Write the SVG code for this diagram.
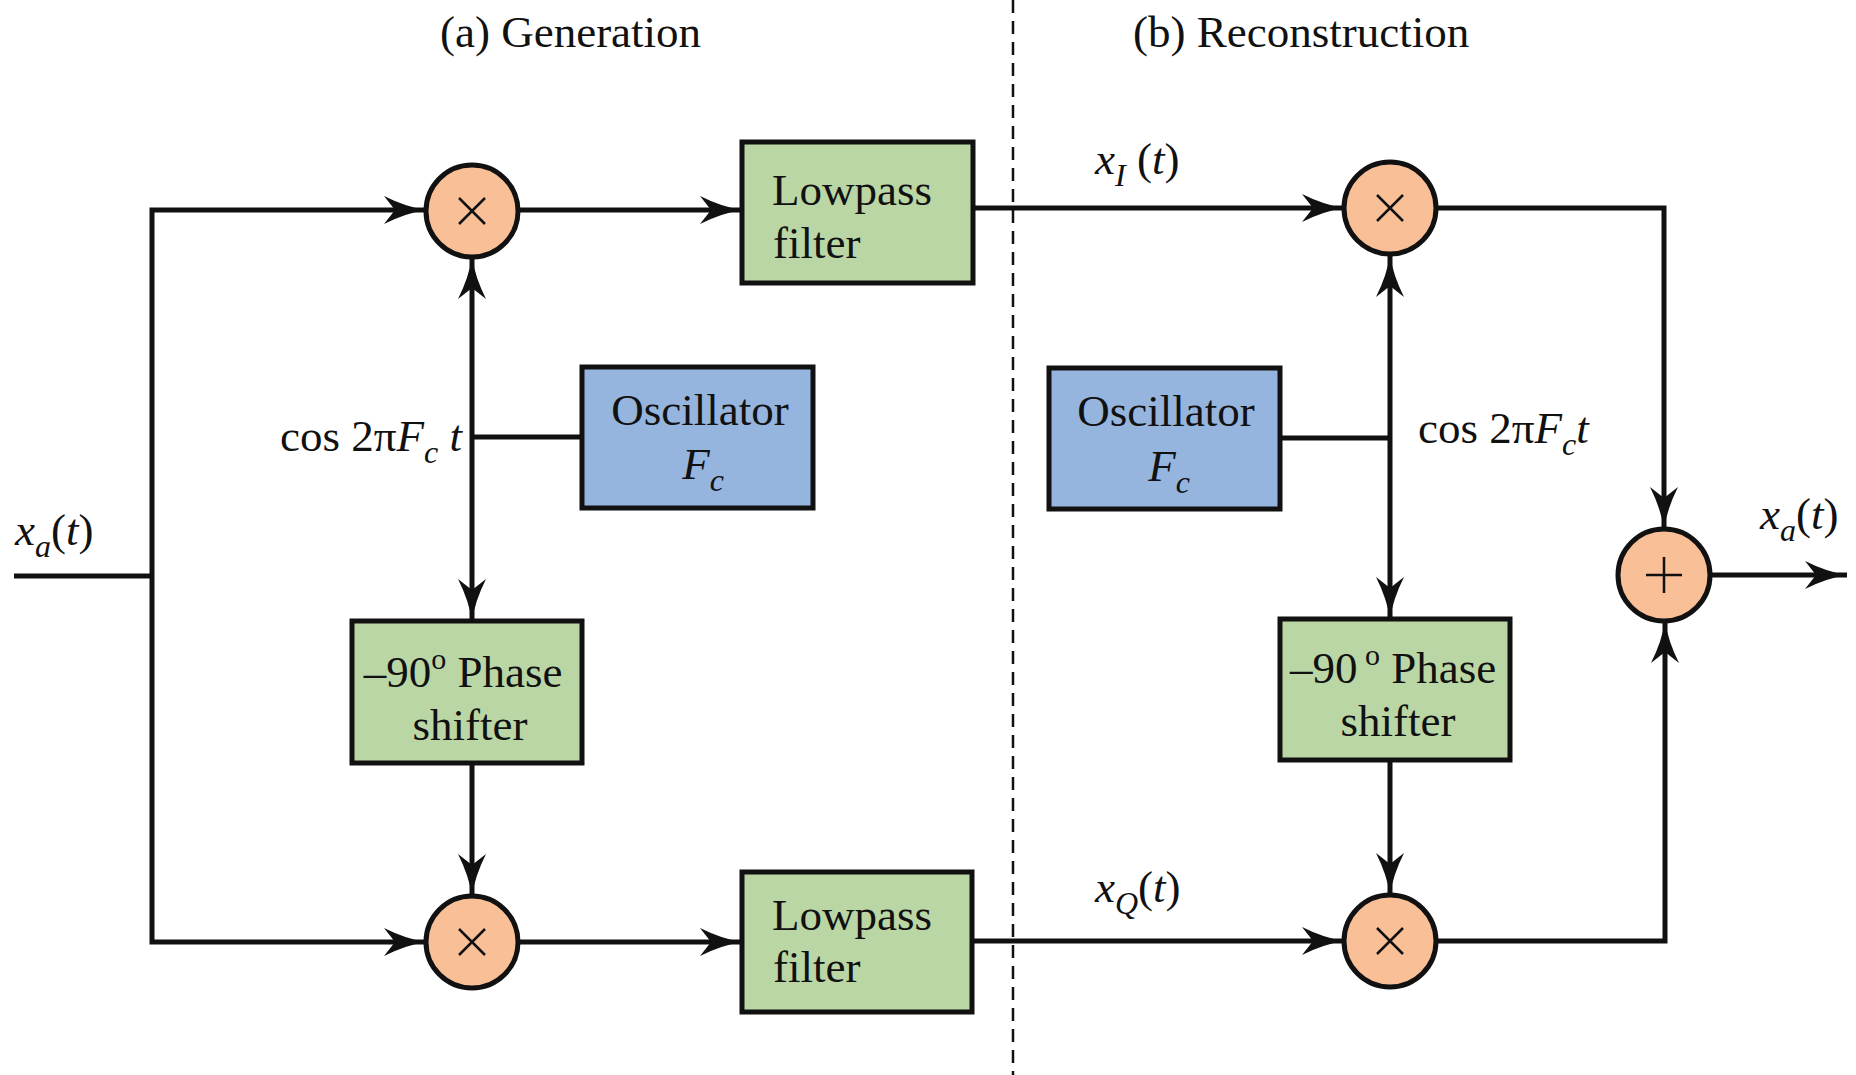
<svg xmlns="http://www.w3.org/2000/svg" width="1856" height="1075" viewBox="0 0 1856 1075">
<style>
.t{font-family:"Liberation Serif","Times New Roman",serif;font-size:45px;fill:#111}
.i{font-style:italic}
.sub{font-size:32px;font-style:italic}
.box{stroke:#111;stroke-width:5}
.g{fill:#BBD6A5}
.b{fill:#96B5DE}
.c{fill:#F9BF97;stroke:#111;stroke-width:5}
.sym{stroke:#111;stroke-width:2.5;fill:none}
.w{fill:none;stroke:#111;stroke-width:5}
.d{fill:none;stroke:#111;stroke-width:2.5;stroke-dasharray:13 8}
</style>
<defs>
<marker id="arr" markerUnits="userSpaceOnUse" markerWidth="44" markerHeight="32" viewBox="0 0 44 32" refX="42" refY="16" orient="auto">
<path d="M0,2 Q22,13 42,16 Q22,19 0,30 L11,16 Z" fill="#111"/>
</marker>
</defs>
<rect width="1856" height="1075" fill="#fff"/>
<line class="d" x1="1013" y1="0" x2="1013" y2="1075"/>
<g id="titles">
<text class="t" x="440" y="47">(a) Generation</text>
<text class="t" x="1133" y="47">(b) Reconstruction</text>
</g>
<g id="connectors">
<path class="w" d="M14,576 H152"/>
<path class="w" d="M152,576 V210 H426" marker-end="url(#arr)"/>
<path class="w" d="M152,576 V942 H426" marker-end="url(#arr)"/>
<path class="w" d="M518,210 H742" marker-end="url(#arr)"/>
<path class="w" d="M973,208 H1344" marker-end="url(#arr)"/>
<path class="w" d="M1436,208 H1664 V529" marker-end="url(#arr)"/>
<path class="w" d="M1710,575 H1847" marker-end="url(#arr)"/>
<path class="w" d="M1436,941 H1665 V621" marker-end="url(#arr)"/>
<path class="w" d="M972,941 H1344" marker-end="url(#arr)"/>
<path class="w" d="M518,942 H742" marker-end="url(#arr)"/>
<path class="w" d="M582,437 H472"/>
<path class="w" d="M472,437 V257" marker-end="url(#arr)"/>
<path class="w" d="M472,437 V621" marker-end="url(#arr)"/>
<path class="w" d="M472,763 V896" marker-end="url(#arr)"/>
<path class="w" d="M1280,438 H1390"/>
<path class="w" d="M1390,438 V255" marker-end="url(#arr)"/>
<path class="w" d="M1390,438 V619" marker-end="url(#arr)"/>
<path class="w" d="M1390,760 V895" marker-end="url(#arr)"/>
</g>
<g id="labels">
<text class="t" x="15" y="545"><tspan class="i">x</tspan><tspan class="sub" dy="12">a</tspan><tspan dy="-12">(</tspan><tspan class="i">t</tspan>)</text>
<text class="t" x="280" y="451">cos 2π<tspan class="i">F</tspan><tspan class="sub" dy="12">c</tspan><tspan class="i" dy="-12"> t</tspan></text>
<text class="t" x="1418" y="443">cos 2π<tspan class="i">F</tspan><tspan class="sub" dy="12">c</tspan><tspan class="i" dy="-12">t</tspan></text>
<text class="t" x="1095" y="174"><tspan class="i">x</tspan><tspan class="sub" dy="12">I</tspan><tspan dy="-12"> (</tspan><tspan class="i">t</tspan>)</text>
<text class="t" x="1095" y="902"><tspan class="i">x</tspan><tspan class="sub" dy="12">Q</tspan><tspan dy="-12">(</tspan><tspan class="i">t</tspan>)</text>
<text class="t" x="1760" y="529"><tspan class="i">x</tspan><tspan class="sub" dy="12">a</tspan><tspan dy="-12">(</tspan><tspan class="i">t</tspan>)</text>
</g>
<g id="mult1"><circle class="c" cx="472" cy="211" r="46"/><path class="sym" d="M459,198 L485,224 M485,198 L459,224"/></g>
<g id="mult2"><circle class="c" cx="1390" cy="208" r="46"/><path class="sym" d="M1377,195 L1403,221 M1403,195 L1377,221"/></g>
<g id="mult3"><circle class="c" cx="472" cy="942" r="46"/><path class="sym" d="M459,929 L485,955 M485,929 L459,955"/></g>
<g id="mult4"><circle class="c" cx="1390" cy="941" r="46"/><path class="sym" d="M1377,928 L1403,954 M1403,928 L1377,954"/></g>
<g id="adder"><circle class="c" cx="1664" cy="575" r="46"/><path class="sym" d="M1646,575 H1682 M1664,557 V593"/></g>
<g id="lpf1"><rect class="box g" x="742" y="142" width="231" height="141"/><text class="t" x="772" y="205">Lowpass</text><text class="t" x="773" y="258">filter</text></g>
<g id="lpf2"><rect class="box g" x="742" y="872" width="230" height="140"/><text class="t" x="772" y="930">Lowpass</text><text class="t" x="773" y="982">filter</text></g>
<g id="osc1"><rect class="box b" x="582" y="367" width="231" height="141"/><text class="t" x="700" y="425" text-anchor="middle">Oscillator</text><text class="t" x="703" y="479" text-anchor="middle"><tspan class="i">F</tspan><tspan class="sub" dy="12">c</tspan></text></g>
<g id="osc2"><rect class="box b" x="1049" y="368" width="231" height="141"/><text class="t" x="1166" y="426" text-anchor="middle">Oscillator</text><text class="t" x="1169" y="481" text-anchor="middle"><tspan class="i">F</tspan><tspan class="sub" dy="12">c</tspan></text></g>
<g id="ps1"><rect class="box g" x="352" y="621" width="230" height="142"/><text class="t" x="463" y="687" text-anchor="middle">–90<tspan font-size="30" dy="-18">o</tspan><tspan dy="18"> Phase</tspan></text><text class="t" x="470" y="740" text-anchor="middle">shifter</text></g>
<g id="ps2"><rect class="box g" x="1280" y="619" width="230" height="141"/><text class="t" x="1393" y="683" text-anchor="middle">–90<tspan font-size="30" dy="-18"> o</tspan><tspan dy="18"> Phase</tspan></text><text class="t" x="1398" y="736" text-anchor="middle">shifter</text></g>
</svg>
